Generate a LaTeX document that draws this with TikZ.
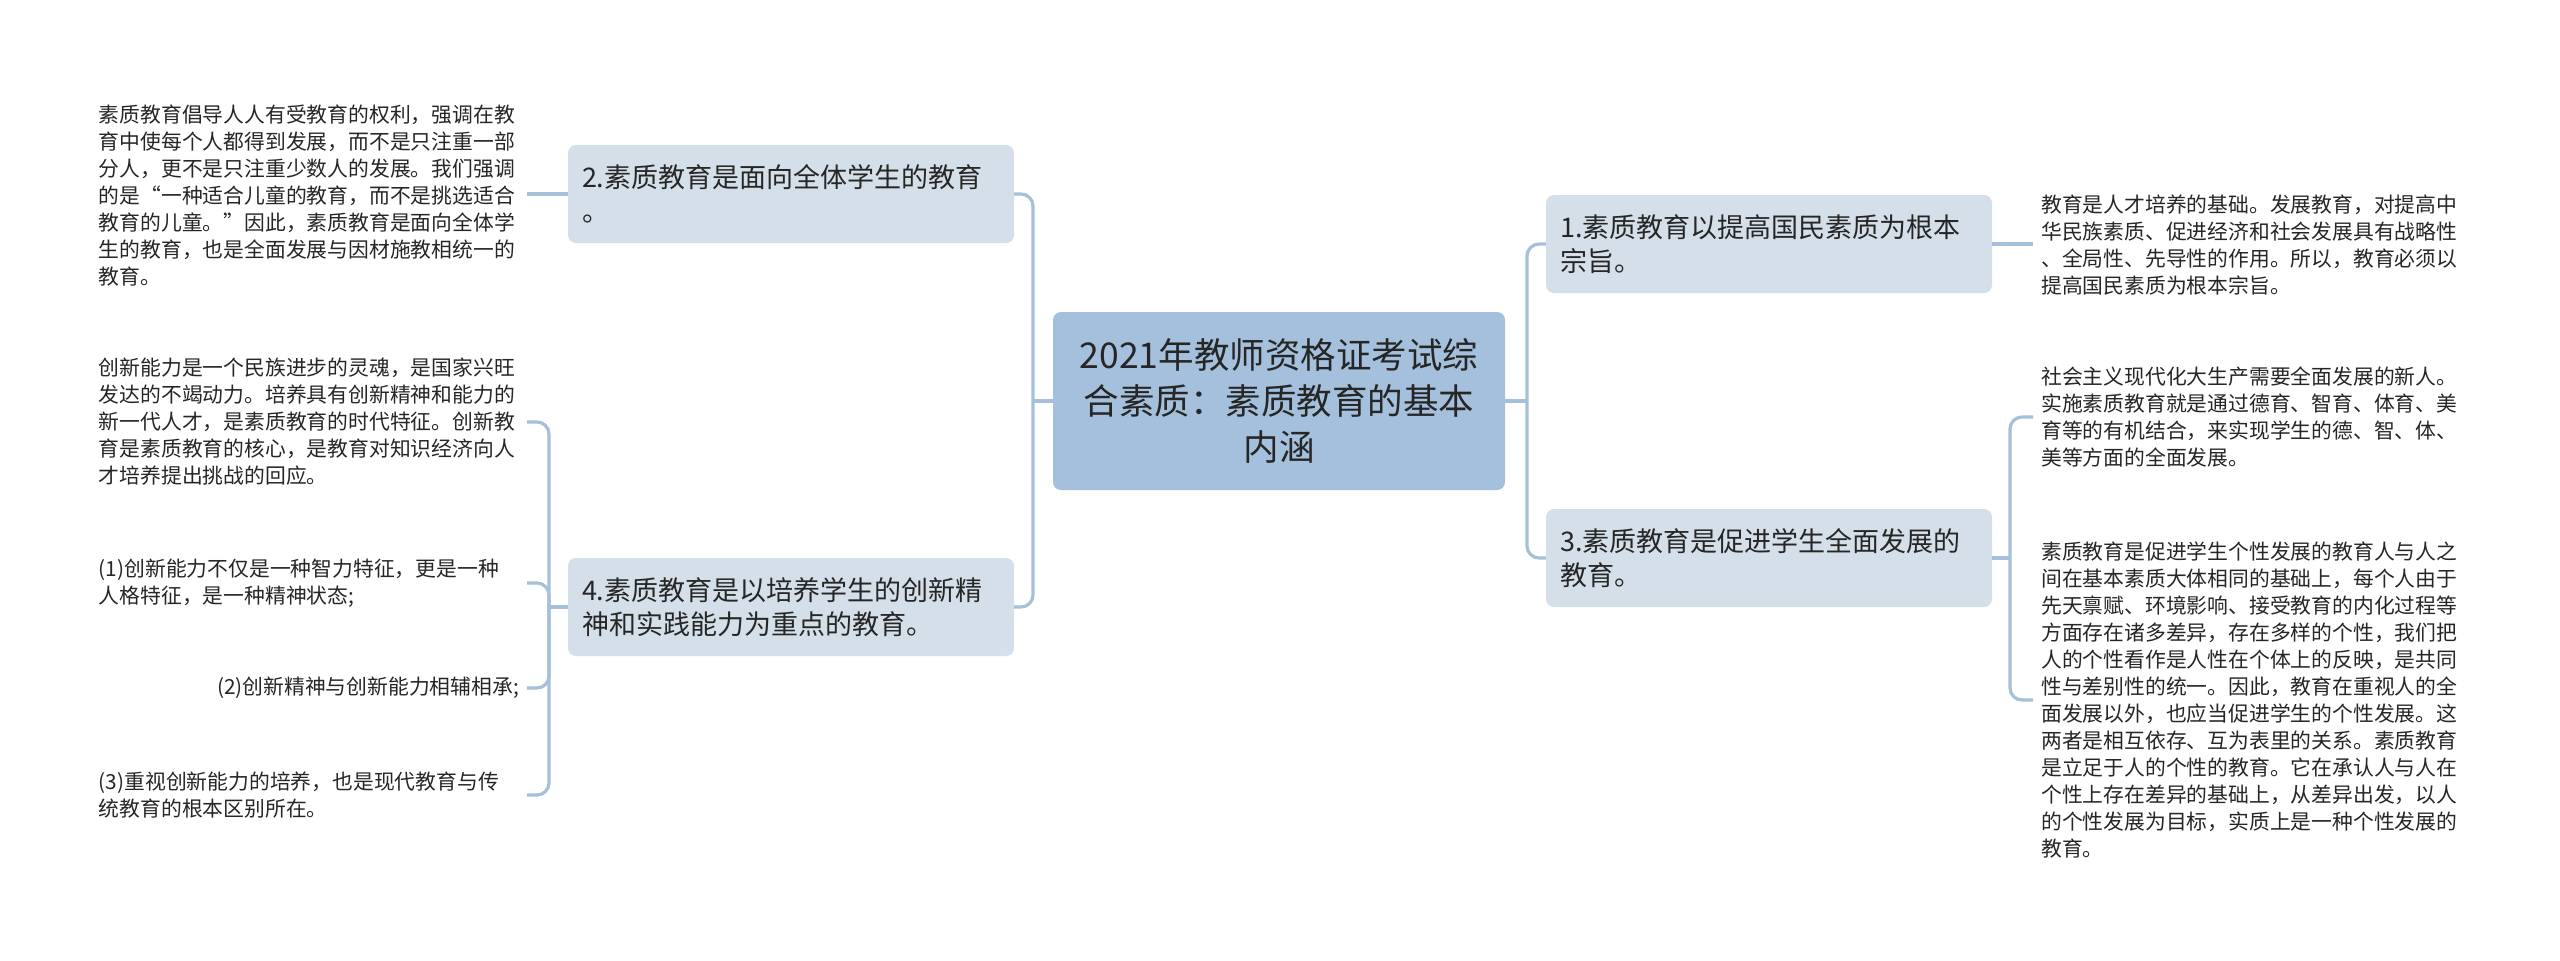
\documentclass[tikz,border=0pt]{standalone}
\usepackage{fontspec}
\setmainfont{Noto Sans CJK SC}
\definecolor{linec}{HTML}{A7C0D9}
\definecolor{rootc}{HTML}{A4C0DC}
\definecolor{subc}{HTML}{D4DFE9}
\definecolor{textc}{HTML}{262626}
\begin{document}
\begin{tikzpicture}[x=1pt,y=-1pt,
  conn/.style={draw=linec, line width=3.2pt, rounded corners=12pt},
  rootbox/.style={fill=rootc, rounded corners=8pt, minimum width=452pt, minimum height=178pt,
    text width=436pt, align=center, inner xsep=8pt, font=\fontsize{35.5}{46}\selectfont, text=textc},
  subbox/.style={fill=subc, rounded corners=8pt, minimum width=446pt, minimum height=98pt,
    text width=418pt, align=left, inner xsep=14pt, font=\fontsize{27}{34}\selectfont, text=textc},
  leafl/.style={anchor=east, text width=420pt, align=left, inner xsep=8pt, inner ysep=0pt,
    font=\fontsize{20.8}{27}\selectfont, text=textc},
  leafs/.style={anchor=east, align=left, inner xsep=8pt, inner ysep=0pt,
    font=\fontsize{20.8}{27}\selectfont, text=textc},
  leafr/.style={anchor=west, text width=424pt, align=left, inner xsep=8pt, inner ysep=0pt,
    font=\fontsize{20.8}{27}\selectfont, text=textc}
]
\fill[white] (0,0) rectangle (2560,961);
\useasboundingbox (0,0) rectangle (2560,961);

% root
\node[rootbox] (root) at (1279,401) {2021年教师资格证考试综\\合素质：素质教育的基本\\内涵};

% main branches
\node[subbox] (n2) at (791,194) {2.素质教育是面向全体学生的教育\\。};
\node[subbox] (n4) at (791,607) {4.素质教育是以培养学生的创新精\\神和实践能力为重点的教育。};
\node[subbox] (n1) at (1769,244) {1.素质教育以提高国民素质为根本\\宗旨。};
\node[subbox] (n3) at (1769,558) {3.素质教育是促进学生全面发展的\\教育。};

% left leaves
\node[leafl] (t2) at (527,196) {素质教育倡导人人有受教育的权利，强调在教\\育中使每个人都得到发展，而不是只注重一部\\分人，更不是只注重少数人的发展。我们强调\\的是“一种适合儿童的教育，而不是挑选适合\\教育的儿童。”因此，素质教育是面向全体学\\生的教育，也是全面发展与因材施教相统一的\\教育。};
\node[leafl] (ta) at (527,422) {创新能力是一个民族进步的灵魂，是国家兴旺\\发达的不竭动力。培养具有创新精神和能力的\\新一代人才，是素质教育的时代特征。创新教\\育是素质教育的核心，是教育对知识经济向人\\才培养提出挑战的回应。};
\node[leafl] (tb) at (527,583) {(1)创新能力不仅是一种智力特征，更是一种\\人格特征，是一种精神状态;};
\node[leafs] (tc) at (527,688) {(2)创新精神与创新能力相辅相承;};
\node[leafl] (td) at (527,795) {(3)重视创新能力的培养，也是现代教育与传\\统教育的根本区别所在。};

% right leaves
\node[leafr] (t1) at (2033,245) {教育是人才培养的基础。发展教育，对提高中\\华民族素质、促进经济和社会发展具有战略性\\、全局性、先导性的作用。所以，教育必须以\\提高国民素质为根本宗旨。};
\node[leafr] (t3a) at (2033,417) {社会主义现代化大生产需要全面发展的新人。\\实施素质教育就是通过德育、智育、体育、美\\育等的有机结合，来实现学生的德、智、体、\\美等方面的全面发展。};
\node[leafr] (t3b) at (2033,700) {素质教育是促进学生个性发展的教育人与人之\\间在基本素质大体相同的基础上，每个人由于\\先天禀赋、环境影响、接受教育的内化过程等\\方面存在诸多差异，存在多样的个性，我们把\\人的个性看作是人性在个体上的反映，是共同\\性与差别性的统一。因此，教育在重视人的全\\面发展以外，也应当促进学生的个性发展。这\\两者是相互依存、互为表里的关系。素质教育\\是立足于人的个性的教育。它在承认人与人在\\个性上存在差异的基础上，从差异出发，以人\\的个性发展为目标，实质上是一种个性发展的\\教育。};

% junctions
\coordinate (jl) at (1033,401);
\coordinate (jr) at (1527,401);
\coordinate (jl4) at (549,607);
\coordinate (jr3) at (2010,558);

% connectors: root side
\draw[conn] (root.west) -- (jl);
\draw[conn] (jl) |- (n2.east);
\draw[conn] (jl) |- (n4.east);
\draw[conn] (root.east) -- (jr);
\draw[conn] (jr) |- (n1.west);
\draw[conn] (jr) |- (n3.west);

% left leaves
\draw[conn] (n2.west) -- (n2.west -| t2.east);
\draw[conn] (n4.west) -- (jl4);
\draw[conn] (jl4) |- (ta.east);
\draw[conn] (jl4) |- (tb.east);
\draw[conn] (jl4) |- (tc.east);
\draw[conn] (jl4) |- (td.east);

% right leaves
\draw[conn] (n1.east) -- (n1.east -| t1.west);
\draw[conn] (n3.east) -- (jr3);
\draw[conn] (jr3) |- (t3a.west);
\draw[conn] (jr3) |- (t3b.west);
\end{tikzpicture}
\end{document}
